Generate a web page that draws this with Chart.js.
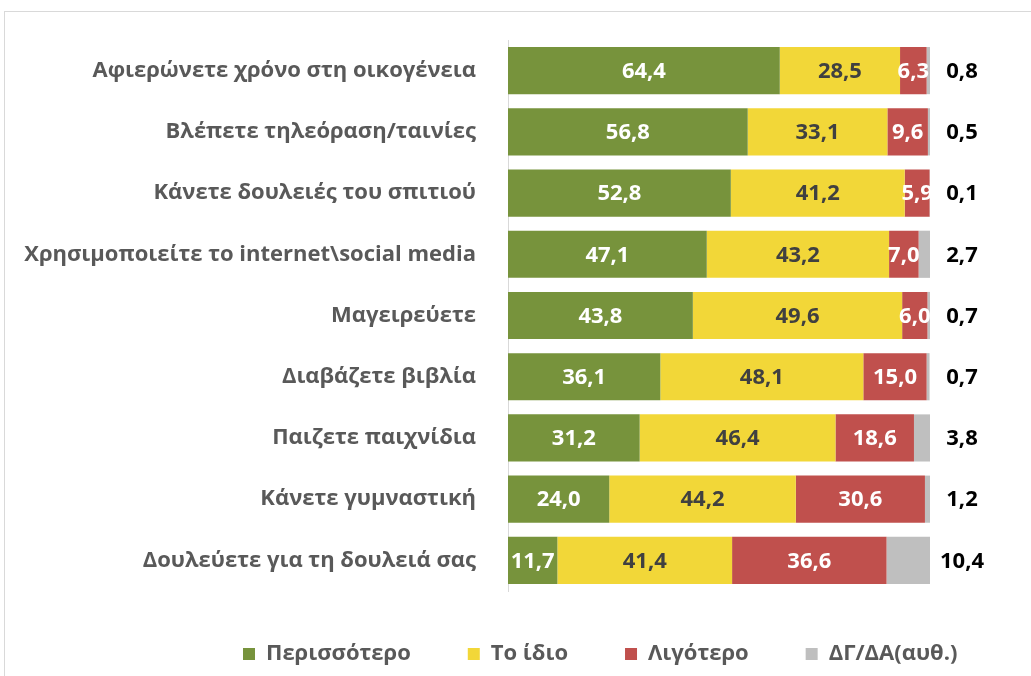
<!DOCTYPE html>
<html>
<head>
<meta charset="utf-8">
<script src="https://cdn.jsdelivr.net/npm/chart.js@4.4.1/dist/chart.umd.min.js"></script>
<style>
html,body{margin:0;padding:0;background:#fff;}
#wrap{position:relative;width:1031px;height:676px;}
</style>
</head>
<body>
<div id="wrap"><canvas id="c" width="1031" height="676"></canvas></div>
<script>
const categories = [
  "Αφιερώνετε χρόνο στη οικογένεια",
  "Βλέπετε τηλεόραση/ταινίες",
  "Κάνετε δουλειές του σπιτιού",
  "Χρησιμοποιείτε το internet\\social media",
  "Μαγειρεύετε",
  "Διαβάζετε βιβλία",
  "Παιζετε παιχνίδια",
  "Κάνετε γυμναστική",
  "Δουλεύετε για τη δουλειά σας"
];
const seriesNames = ["Περισσότερο", "Το ίδιο", "Λιγότερο", "ΔΓ/ΔΑ(αυθ.)"];
const more = [64.4, 56.8, 52.8, 47.1, 43.8, 36.1, 31.2, 24.0, 11.7];
const same = [28.5, 33.1, 41.2, 43.2, 49.6, 48.1, 46.4, 44.2, 41.4];
const less = [6.3, 9.6, 5.9, 7.0, 6.0, 15.0, 18.6, 30.6, 36.6];
const dkna = [0.8, 0.5, 0.1, 2.7, 0.7, 0.7, 3.8, 1.2, 10.4];

const colors = ["#77933C", "#F2D738", "#C0504D", "#BFBFBF"];
const labelColors = ["#FFFFFF", "#404040", "#FFFFFF", "#000000"];
const FONT = "'Open Sans', 'Noto Sans', sans-serif";
const LEGEND_PAD = 57;

const fmt = v => v.toFixed(1).replace('.', ',');

const frame = {
  id: 'frame',
  beforeDraw(chart) {
    const ctx = chart.ctx;
    ctx.save();
    ctx.strokeStyle = '#d9d9d9';
    ctx.lineWidth = 1;
    ctx.strokeRect(4.5, 11.5, 1100, 700);
    ctx.restore();
  }
};

const legendPlace = {
  id: 'legendPlace',
  afterLayout(chart) {
    const lg = chart.legend;
    if (!lg || !lg.lineWidths) return;
    const lw = lg.lineWidths[0];
    const startX = 243;
    lg.left = startX - LEGEND_PAD;
    lg.right = startX + lw;
    lg.width = lg.right - lg.left;
    const h = lg.height;
    lg.top = 676 - h - 1;
    lg.bottom = lg.top + h;
  }
};

const valueLabels = {
  id: 'valueLabels',
  afterDatasetsDraw(chart) {
    const ctx = chart.ctx;
    const area = chart.chartArea;
    ctx.save();
    ctx.font = "bold 22px " + FONT;
    ctx.textBaseline = 'middle';
    ctx.textAlign = 'center';
    chart.data.datasets.forEach((ds, i) => {
      const meta = chart.getDatasetMeta(i);
      meta.data.forEach((bar, j) => {
        const v = ds.data[j];
        ctx.fillStyle = labelColors[i];
        let x;
        if (i === 3) x = area.right + 32;
        else x = (bar.x + bar.base) / 2;
        ctx.fillText(fmt(v), x, bar.y + 1);
      });
    });
    ctx.restore();
  }
};

new Chart(document.getElementById('c'), {
  type: 'bar',
  data: {
    labels: categories,
    datasets: [more, same, less, dkna].map((d, i) => ({
      label: seriesNames[i],
      data: d,
      backgroundColor: colors[i],
      borderWidth: 0,
      barPercentage: 0.77,
      categoryPercentage: 1.0
    }))
  },
  options: {
    indexAxis: 'y',
    responsive: false,
    animation: false,
    layout: { padding: { top: 40, right: 101, left: 0, bottom: -4 } },
    scales: {
      x: {
        stacked: true,
        min: 0,
        max: 100,
        display: false
      },
      y: {
        stacked: true,
        afterFit(s) { s.width = 508; s.paddingTop = 0; s.paddingBottom = 0; },
        grid: { display: false, drawTicks: false },
        border: { display: true, color: '#d9d9d9', width: 1 },
        ticks: {
          padding: 32,
          color: '#595959',
          font: { family: FONT, size: 22, weight: 'bold' }
        }
      }
    },
    plugins: {
      tooltip: { enabled: false },
      legend: {
        position: 'bottom',
        labels: {
          boxWidth: 12,
          boxHeight: 12,
          padding: LEGEND_PAD,
          color: '#595959',
          font: { family: FONT, size: 22, weight: 'bold' }
        }
      }
    }
  },
  plugins: [frame, legendPlace, valueLabels]
});
</script>
</body>
</html>
